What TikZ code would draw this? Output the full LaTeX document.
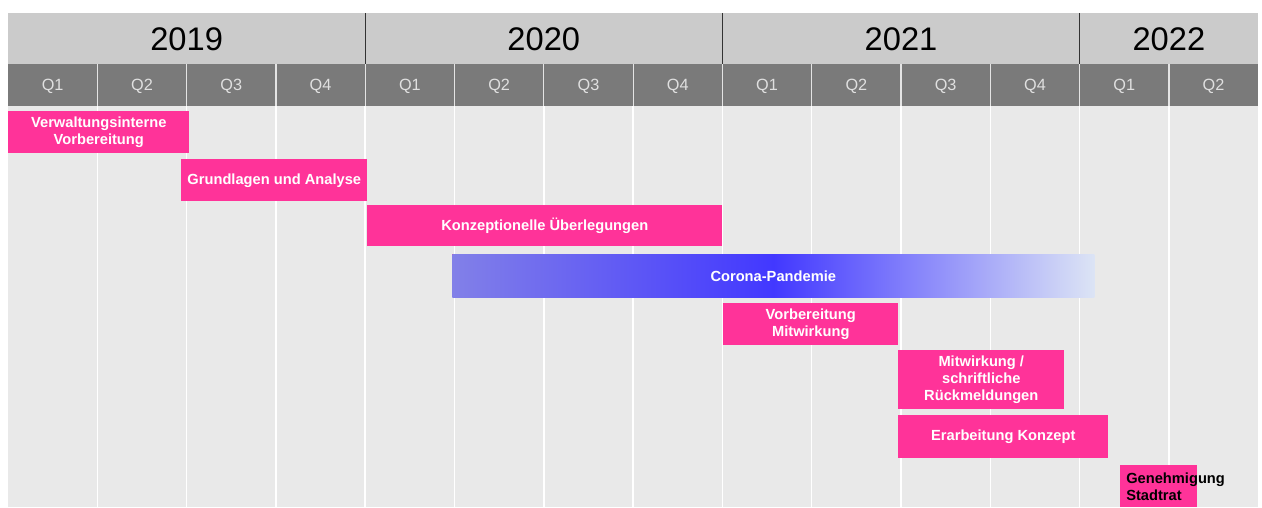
\documentclass[tikz,border=0pt]{standalone}
\usepackage{fontspec}
\setmainfont{Liberation Sans}
\usepackage{xcolor}
\usetikzlibrary{positioning}
\definecolor{barpink}{HTML}{FF3399}
\definecolor{yearrow}{HTML}{CBCBCB}
\definecolor{quarterrow}{HTML}{7A7A7A}
\definecolor{chartbg}{HTML}{E9E9E9}
\definecolor{coronaL}{RGB}{130,128,232}
\definecolor{coronaM}{RGB}{66,56,255}
\definecolor{coronaR}{RGB}{220,228,245}
\tikzset{
  yearlabel/.style={font=\fontsize{24.5}{28}\selectfont, text=black},
  quarterlabel/.style={font=\fontsize{12.2}{14}\selectfont, text=white!88!black},
  taskbar/.style={fill=barpink, text=white, inner sep=0pt, align=center,
                  font=\fontsize{11}{12.75}\selectfont\bfseries},
}

\begin{document}
\begin{tikzpicture}[x=0.75pt,y=-0.75pt]
  \useasboundingbox (0,0) rectangle (1262,507);
  \def\qw{89.3}
  % one bar: name/style/left/top/right/bottom/text
  \def\task#1#2#3#4#5#6#7{%
    \node (#1) [taskbar, #2, anchor=north west,
                minimum width={(#5-#3)*0.75pt},
                minimum height={(#6-#4)*0.75pt}] at (#3,#4) {#7};
  }

  % header rows and chart area
  \fill[yearrow] (8,13) rectangle (1258,64);
  \fill[quarterrow] (8,64) rectangle (1258,106);
  \fill[chartbg] (8,106) rectangle (1258,507);

  \foreach \i in {1,...,13}{
    \draw[white, line width=1.1pt] (8+\i*\qw,106) -- (8+\i*\qw,507);
    \draw[white!80!quarterrow, line width=0.9pt] (8+\i*\qw,64) -- (8+\i*\qw,106);
  }
  \foreach \i in {4,8,12}{
    \draw[black!80, line width=0.9pt] (8+\i*\qw,13) -- (8+\i*\qw,64);
  }

  \foreach \y/\a/\b in {2019/0/4, 2020/4/8, 2021/8/12, 2022/12/14}{
    \node (y\y) [yearlabel] at ({8+(\a+\b)/2*\qw},39.5) {\y};
  }
  \foreach \q [count=\i from 0] in {1,2,3,4,1,2,3,4,1,2,3,4,1,2}{
    \node (q\i) [quarterlabel] at ({8+(\i+0.5)*\qw},86) {Q\q};
  }

  % tasks
  \task{verw}{}{8}{111}{189}{153}{Verwaltungsinterne\\Vorbereitung}
  \task{grund}{}{181}{159}{367}{201}{Grundlagen und Analyse}
  \task{konz}{}{367}{205}{722}{246}{Konzeptionelle Überlegungen}
  \task{corona}{left color=coronaL, right color=coronaR, middle color=coronaM}{452}{254}{1094}{297}{Corona-Pandemie}
  \task{vorb}{}{723}{303}{898}{345}{Vorbereitung\\Mitwirkung}
  \task{mitw}{}{898}{350}{1064}{409}{Mitwirkung /\\schriftliche\\Rückmeldungen}
  \task{erarb}{}{898}{415}{1108}{458}{Erarbeitung Konzept}
  \task{gen}{}{1120}{465}{1197}{507}{}
  \node (gentext) [taskbar, fill=none, text=black, align=left, anchor=west]
    at ([xshift=4.5pt]gen.west) {Genehmigung\\Stadtrat};

\end{tikzpicture}
\end{document}
